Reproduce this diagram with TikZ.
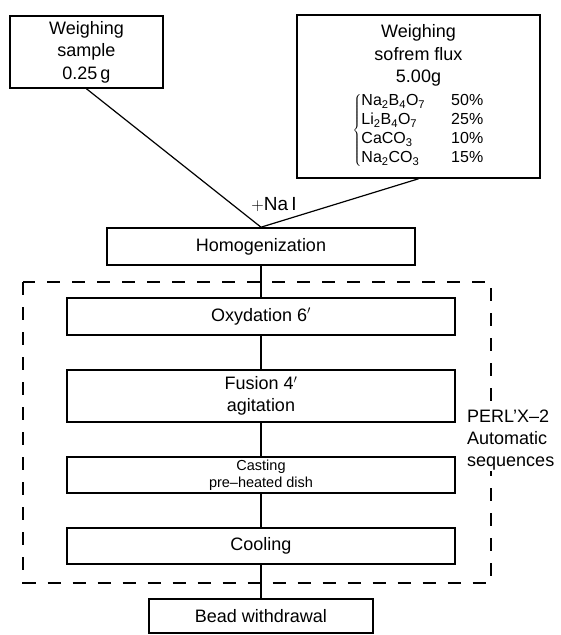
\documentclass[tikz,border=0pt]{standalone}
\usepackage{fontspec}
\setmainfont{Liberation Sans}
\usetikzlibrary{positioning, calc}
\newcommand{\sbs}[1]{\textsubscript{#1}}

\begin{document}
\begin{tikzpicture}[
    x=1pt, y=1pt,
    node distance=33.4pt,
    stage/.style={rectangle, draw, line width=1.6pt,
                  minimum width=388pt, minimum height=37pt, align=center,
                  inner sep=2pt, font=\fontsize{18}{22.5}\selectfont},
    link/.style={line width=1.2pt},
    seqframe/.style={line width=2pt, dash pattern=on 13pt off 12pt},
]
    \useasboundingbox (0,0) rectangle (560,635);

    % Weighing
    \node[stage, minimum width=153pt, minimum height=72pt] (sample) at (86.5,583) {Weighing\\sample\\0.25\,g};
    \node[stage, minimum width=243pt, minimum height=163pt] (flux) at (418.5,538.5)
        {Weighing\\sofrem flux\\5.00g\\[5pt]
         {\fontsize{16}{19}\selectfont$\left\{\begin{tabular}{@{}l@{\hspace{26pt}}l@{}}
            Na\sbs{2}B\sbs{4}O\sbs{7} & 50\% \\
            Li\sbs{2}B\sbs{4}O\sbs{7} & 25\% \\
            CaCO\sbs{3} & 10\% \\
            Na\sbs{2}CO\sbs{3} & 15\%
         \end{tabular}\right.$}};

    % Stages
    \node[stage, minimum width=308pt] (homog) at (261,388.5) {Homogenization};
    \node[stage, below=31.4pt of homog] (oxy) {Oxydation 6$'$};
    \node[stage, minimum height=52pt, below=of oxy] (fusion) {Fusion 4$'$\\agitation};
    \node[stage, minimum height=36pt, below=of fusion, font=\fontsize{14.5}{17}\selectfont] (cast) {Casting\\pre--heated dish};
    \node[stage, minimum height=36pt, below=of cast] (cool) {Cooling};
    \node[stage, minimum width=224pt, minimum height=34pt, below=of cool] (bead) {Bead withdrawal};

    % Connections
    \draw[link] (sample.south) -- (homog.north) -- (flux.south);
    \node[font=\fontsize{19}{22}\selectfont, inner sep=0pt] (nai) at ([shift={(13,23)}]homog.north) {$+$Na\,$\mathrm{I}$};
    \foreach \a/\b in {homog/oxy, oxy/fusion, fusion/cast, cast/cool, cool/bead}
        \draw[link] (\a.south) -- (\b.north);

    % Automatic part
    \draw[seqframe] ($(oxy.north west)+(-43,15)$) rectangle ($(cool.south east)+(35,-18)$);
    \node[font=\fontsize{18}{22}\selectfont, align=left, fill=white, inner sep=1pt, anchor=west] (perl) at (466,195) {PERL'X--2\\Automatic\\sequences};
\end{tikzpicture}
\end{document}
